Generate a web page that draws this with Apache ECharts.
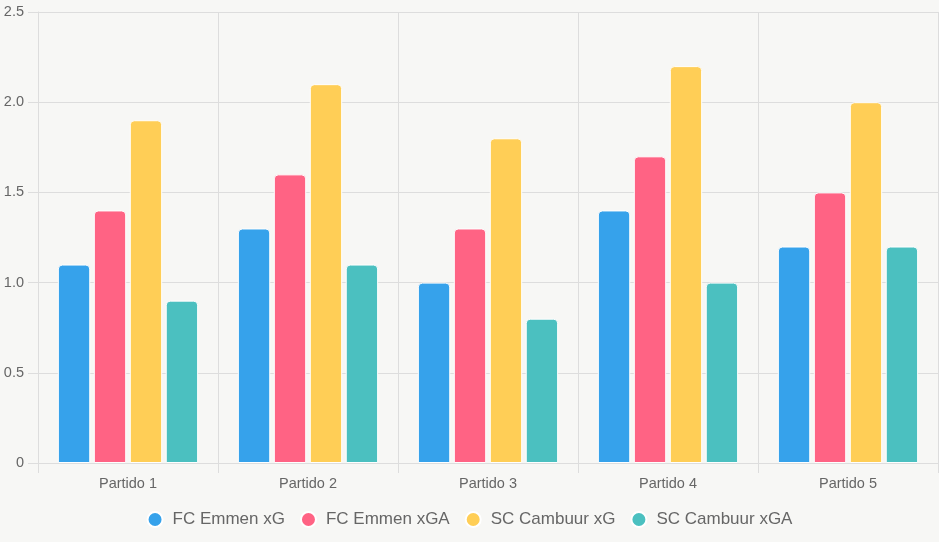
<!DOCTYPE html>
<html>
<head>
<meta charset="utf-8">
<script src="https://cdn.jsdelivr.net/npm/echarts@6/dist/echarts.min.js"></script>
<style>
  html, body { margin: 0; padding: 0; background: #f7f7f5; }
  #chart { width: 939px; height: 542px; }
</style>
</head>
<body>
<div id="chart"></div>
<script>
const categories = ['Partido 1', 'Partido 2', 'Partido 3', 'Partido 4', 'Partido 5']
const emmenXG = [1.1, 1.3, 1.0, 1.4, 1.2]
const emmenXGA = [1.4, 1.6, 1.3, 1.7, 1.5]
const cambuurXG = [1.9, 2.1, 1.8, 2.2, 2.0]
const cambuurXGA = [0.9, 1.1, 0.8, 1.0, 1.2]

const seriesDefs = [
  { name: 'FC Emmen xG', data: emmenXG, color: '#36a2eb' },
  { name: 'FC Emmen xGA', data: emmenXGA, color: '#ff6384' },
  { name: 'SC Cambuur xG', data: cambuurXG, color: '#ffce56' },
  { name: 'SC Cambuur xGA', data: cambuurXGA, color: '#4bc0c0' }
]

const chart = echarts.init(document.getElementById('chart'))

const gridColor = '#dddddd'
const textColor = '#666666'

const option = {
  backgroundColor: '#f7f7f5',
  textStyle: { fontFamily: '"Liberation Sans", Arial, sans-serif' },
  grid: {
    left: 38,
    right: 1,
    top: 12,
    bottom: 79,
    containLabel: false,
    outerBoundsMode: 'none'
  },
  legend: {
    top: 506,
    icon: 'circle',
    itemWidth: 15,
    itemHeight: 15,
    itemGap: 15,
    textStyle: { color: textColor, fontSize: 17, padding: [0, 0, 0, 5] },
    data: seriesDefs.map(s => s.name)
  },
  xAxis: {
    type: 'category',
    data: categories,
    axisLine: { lineStyle: { color: gridColor } },
    axisTick: { show: true, length: 10, lineStyle: { color: gridColor } },
    splitLine: { show: true, lineStyle: { color: gridColor } },
    axisLabel: { color: textColor, fontSize: 14.5, margin: 13 }
  },
  yAxis: {
    type: 'value',
    min: 0,
    max: 2.5,
    interval: 0.5,
    axisLine: { show: true, lineStyle: { color: gridColor } },
    axisTick: { show: true, length: 10, lineStyle: { color: gridColor } },
    splitLine: { show: true, lineStyle: { color: gridColor } },
    axisLabel: {
      color: textColor,
      fontSize: 14.5,
      margin: 14,
      formatter: v => (v === 0 ? '0' : v.toFixed(1))
    }
  },
  series: seriesDefs.map(s => ({
    name: s.name,
    type: 'bar',
    data: s.data,
    barWidth: '18%',
    barGap: '11%',
    itemStyle: {
      color: s.color,
      borderColor: '#ffffff',
      borderWidth: 1,
      borderRadius: [4, 4, 0, 0]
    }
  }))
}

chart.setOption(option)
window.addEventListener('resize', () => chart.resize())
</script>
</body>
</html>
